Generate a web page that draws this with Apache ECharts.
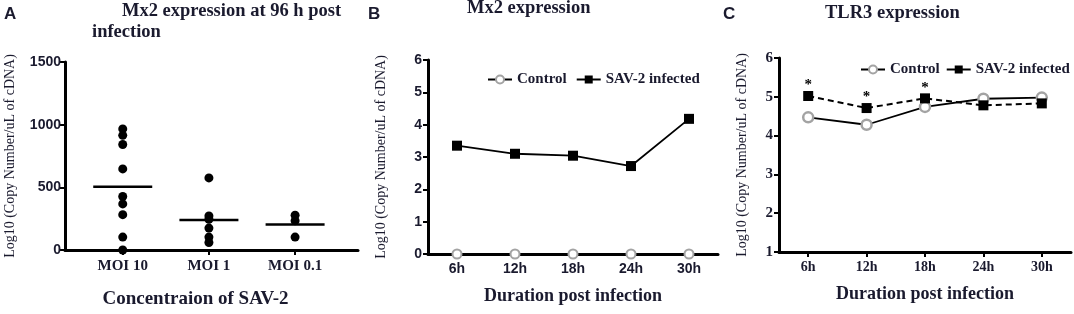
<!DOCTYPE html>
<html>
<head>
<meta charset="utf-8">
<script src="https://cdn.jsdelivr.net/npm/echarts@6/dist/echarts.min.js"></script>
<style>
  html, body { margin: 0; padding: 0; background: #fff; }
  #main { width: 1074px; height: 314px; }
</style>
</head>
<body>
<div id="main"></div>
<script>
// panel A - Mx2 at 96 h, individual fish
const moiGroups = ['MOI 10', 'MOI 1', 'MOI 0.1'];
const moi10 = [966, 915, 842, 647, 427, 368, 282, 103, 0];
const moi1 = [575, 272, 245, 175, 103, 60];
const moi01 = [277, 233, 103];
const moiMeans = [505, 239, 204];

// panels B and C - time course
const hours = ['6h', '12h', '18h', '24h', '30h'];
const mx2Control = [0, 0, 0, 0, 0];
const mx2Infected = [3.35, 3.10, 3.04, 2.72, 4.18];
const tlr3Control = [4.47, 4.28, 4.74, 4.95, 4.98];
const tlr3Infected = [5.02, 4.71, 4.96, 4.78, 4.83];
const tlr3Marks = ['*', '*', '*', '', ''];

const serif = 'Liberation Serif';
const sans = 'Liberation Sans';
const ink = '#1a1a2e';
const grey = '#a3a3a3';

const chart = echarts.init(document.getElementById('main'));

function axisBase() {
    return {
        axisLine: { show: true, onZero: false, lineStyle: { color: '#000', width: 3 } },
        axisTick: { show: true, length: 5, lineStyle: { color: '#000', width: 2 } },
        splitLine: { show: false }
    };
}

function titleText(text, left, top, font, size) {
    return {
        text: text, left: left, top: top, padding: 0,
        textStyle: { fontFamily: font, fontWeight: 'bold', fontSize: size, color: ink }
    };
}

let scatterPoints = [];
moi10.forEach(v => scatterPoints.push([0, v]));
moi1.forEach(v => scatterPoints.push([1, v]));
moi01.forEach(v => scatterPoints.push([2, v]));

const yName = 'Log10 (Copy Number/uL of cDNA)';
const legendText = { fontFamily: serif, fontWeight: 'bold', fontSize: 15, color: ink };

let option = {
    animation: false,
    title: [
        titleText('A', 4, 6, sans, 17),
        titleText('Mx2 expression at 96 h post', 122, 2, serif, 18.5),
        titleText('infection', 92, 23, serif, 18.5),
        titleText('B', 368, 6, sans, 17),
        titleText('Mx2 expression', 467, -1, serif, 18.5),
        titleText('C', 723, 6, sans, 17),
        titleText('TLR3 expression', 825, 4, serif, 18.5)
    ],
    legend: [
        {
            left: 482, top: 67, width: 260, itemGap: 9, itemWidth: 24, itemHeight: 10,
            data: ['Control', 'SAV-2 infected'],
            textStyle: legendText
        },
        {
            left: 855, top: 57, width: 260, itemGap: 6, itemWidth: 24, itemHeight: 10,
            data: ['Control', 'SAV-2 infected'],
            textStyle: legendText
        }
    ],
    grid: [
        { left: 65, top: 62, width: 293, height: 193 },
        { left: 428, top: 60, width: 290, height: 194 },
        { left: 779, top: 58, width: 292, height: 194 }
    ],
    xAxis: [
        Object.assign(axisBase(), {
            gridIndex: 0, type: 'value', min: -0.67, max: 2.73,
            axisTick: { show: true, length: 5, customValues: [0, 1, 2], lineStyle: { color: '#000', width: 2 } },
            axisLabel: {
                customValues: [0, 1, 2], margin: 9,
                formatter: v => moiGroups[Math.round(v)],
                fontFamily: serif, fontWeight: 'bold', fontSize: 15, color: ink
            },
            name: 'Concentraion of SAV-2', nameLocation: 'middle', nameGap: 40,
            nameTextStyle: { fontFamily: serif, fontWeight: 'bold', fontSize: 19, color: ink, padding: [0, 32, 0, 0] }
        }),
        Object.assign(axisBase(), {
            gridIndex: 1, type: 'category', data: hours, boundaryGap: true,
            axisTick: { show: true, alignWithLabel: true, length: 5, lineStyle: { color: '#000', width: 2 } },
            axisLabel: { margin: 8, fontFamily: sans, fontWeight: 'bold', fontSize: 14, color: ink },
            name: 'Duration post infection', nameLocation: 'middle', nameGap: 33,
            nameTextStyle: { fontFamily: serif, fontWeight: 'bold', fontSize: 18, color: ink }
        }),
        Object.assign(axisBase(), {
            gridIndex: 2, type: 'category', data: hours, boundaryGap: true,
            axisTick: { show: true, alignWithLabel: true, length: 5, lineStyle: { color: '#000', width: 2 } },
            axisLabel: { margin: 8, fontFamily: serif, fontWeight: 'bold', fontSize: 14, color: ink },
            name: 'Duration post infection', nameLocation: 'middle', nameGap: 33,
            nameTextStyle: { fontFamily: serif, fontWeight: 'bold', fontSize: 18, color: ink }
        })
    ],
    yAxis: [
        Object.assign(axisBase(), {
            gridIndex: 0, type: 'value', min: 0, max: 1500, interval: 500,
            axisLabel: { margin: 4, formatter: v => String(v), fontFamily: sans, fontWeight: 'bold', fontSize: 14, color: ink },
            name: yName, nameLocation: 'middle', nameGap: 48,
            nameTextStyle: { fontFamily: serif, fontSize: 14, color: ink }
        }),
        Object.assign(axisBase(), {
            gridIndex: 1, type: 'value', min: 0, max: 6, interval: 1,
            axisLabel: { margin: 6, fontFamily: sans, fontWeight: 'bold', fontSize: 14, color: ink },
            name: yName, nameLocation: 'middle', nameGap: 40,
            nameTextStyle: { fontFamily: serif, fontSize: 14, color: ink }
        }),
        Object.assign(axisBase(), {
            gridIndex: 2, type: 'value', min: 1, max: 6, interval: 1,
            axisLabel: { margin: 6, fontFamily: serif, fontWeight: 'bold', fontSize: 15, color: ink },
            name: yName, nameLocation: 'middle', nameGap: 30,
            nameTextStyle: { fontFamily: serif, fontSize: 14, color: ink }
        })
    ],
    series: [
        // panel A
        {
            name: 'fish', type: 'scatter', xAxisIndex: 0, yAxisIndex: 0,
            symbol: 'circle', symbolSize: 9,
            itemStyle: { color: '#000', opacity: 1 },
            data: scatterPoints
        },
        {
            name: 'mean', type: 'scatter', xAxisIndex: 0, yAxisIndex: 0,
            symbol: 'rect', symbolSize: [59, 2.5],
            itemStyle: { color: '#000', opacity: 1 },
            data: moiMeans.map((v, i) => [i, v])
        },
        // panel B
        {
            name: 'SAV-2 infected', type: 'line', xAxisIndex: 1, yAxisIndex: 1,
            symbol: 'rect', symbolSize: 10,
            lineStyle: { color: '#000', width: 1.8 },
            itemStyle: { color: '#000' },
            data: mx2Infected
        },
        {
            name: 'Control', type: 'line', xAxisIndex: 1, yAxisIndex: 1,
            symbol: 'circle', symbolSize: 9,
            lineStyle: { color: '#000', width: 1.8 },
            itemStyle: { color: '#fff', borderColor: grey, borderWidth: 2 },
            data: mx2Control
        },
        // panel C
        {
            name: 'Control', type: 'line', xAxisIndex: 2, yAxisIndex: 2,
            symbol: 'circle', symbolSize: 10,
            lineStyle: { color: '#000', width: 1.8 },
            itemStyle: { color: '#fff', borderColor: grey, borderWidth: 2.5 },
            data: tlr3Control
        },
        {
            name: 'SAV-2 infected', type: 'line', xAxisIndex: 2, yAxisIndex: 2,
            symbol: 'rect', symbolSize: 10,
            lineStyle: { color: '#000', width: 2, type: [6, 4] },
            itemStyle: { color: '#000' },
            label: {
                show: true, position: 'top', distance: -2,
                formatter: p => tlr3Marks[p.dataIndex],
                fontFamily: serif, fontWeight: 'bold', fontSize: 15, color: '#000'
            },
            data: tlr3Infected
        }
    ]
};

chart.setOption(option);
</script>
</body>
</html>
